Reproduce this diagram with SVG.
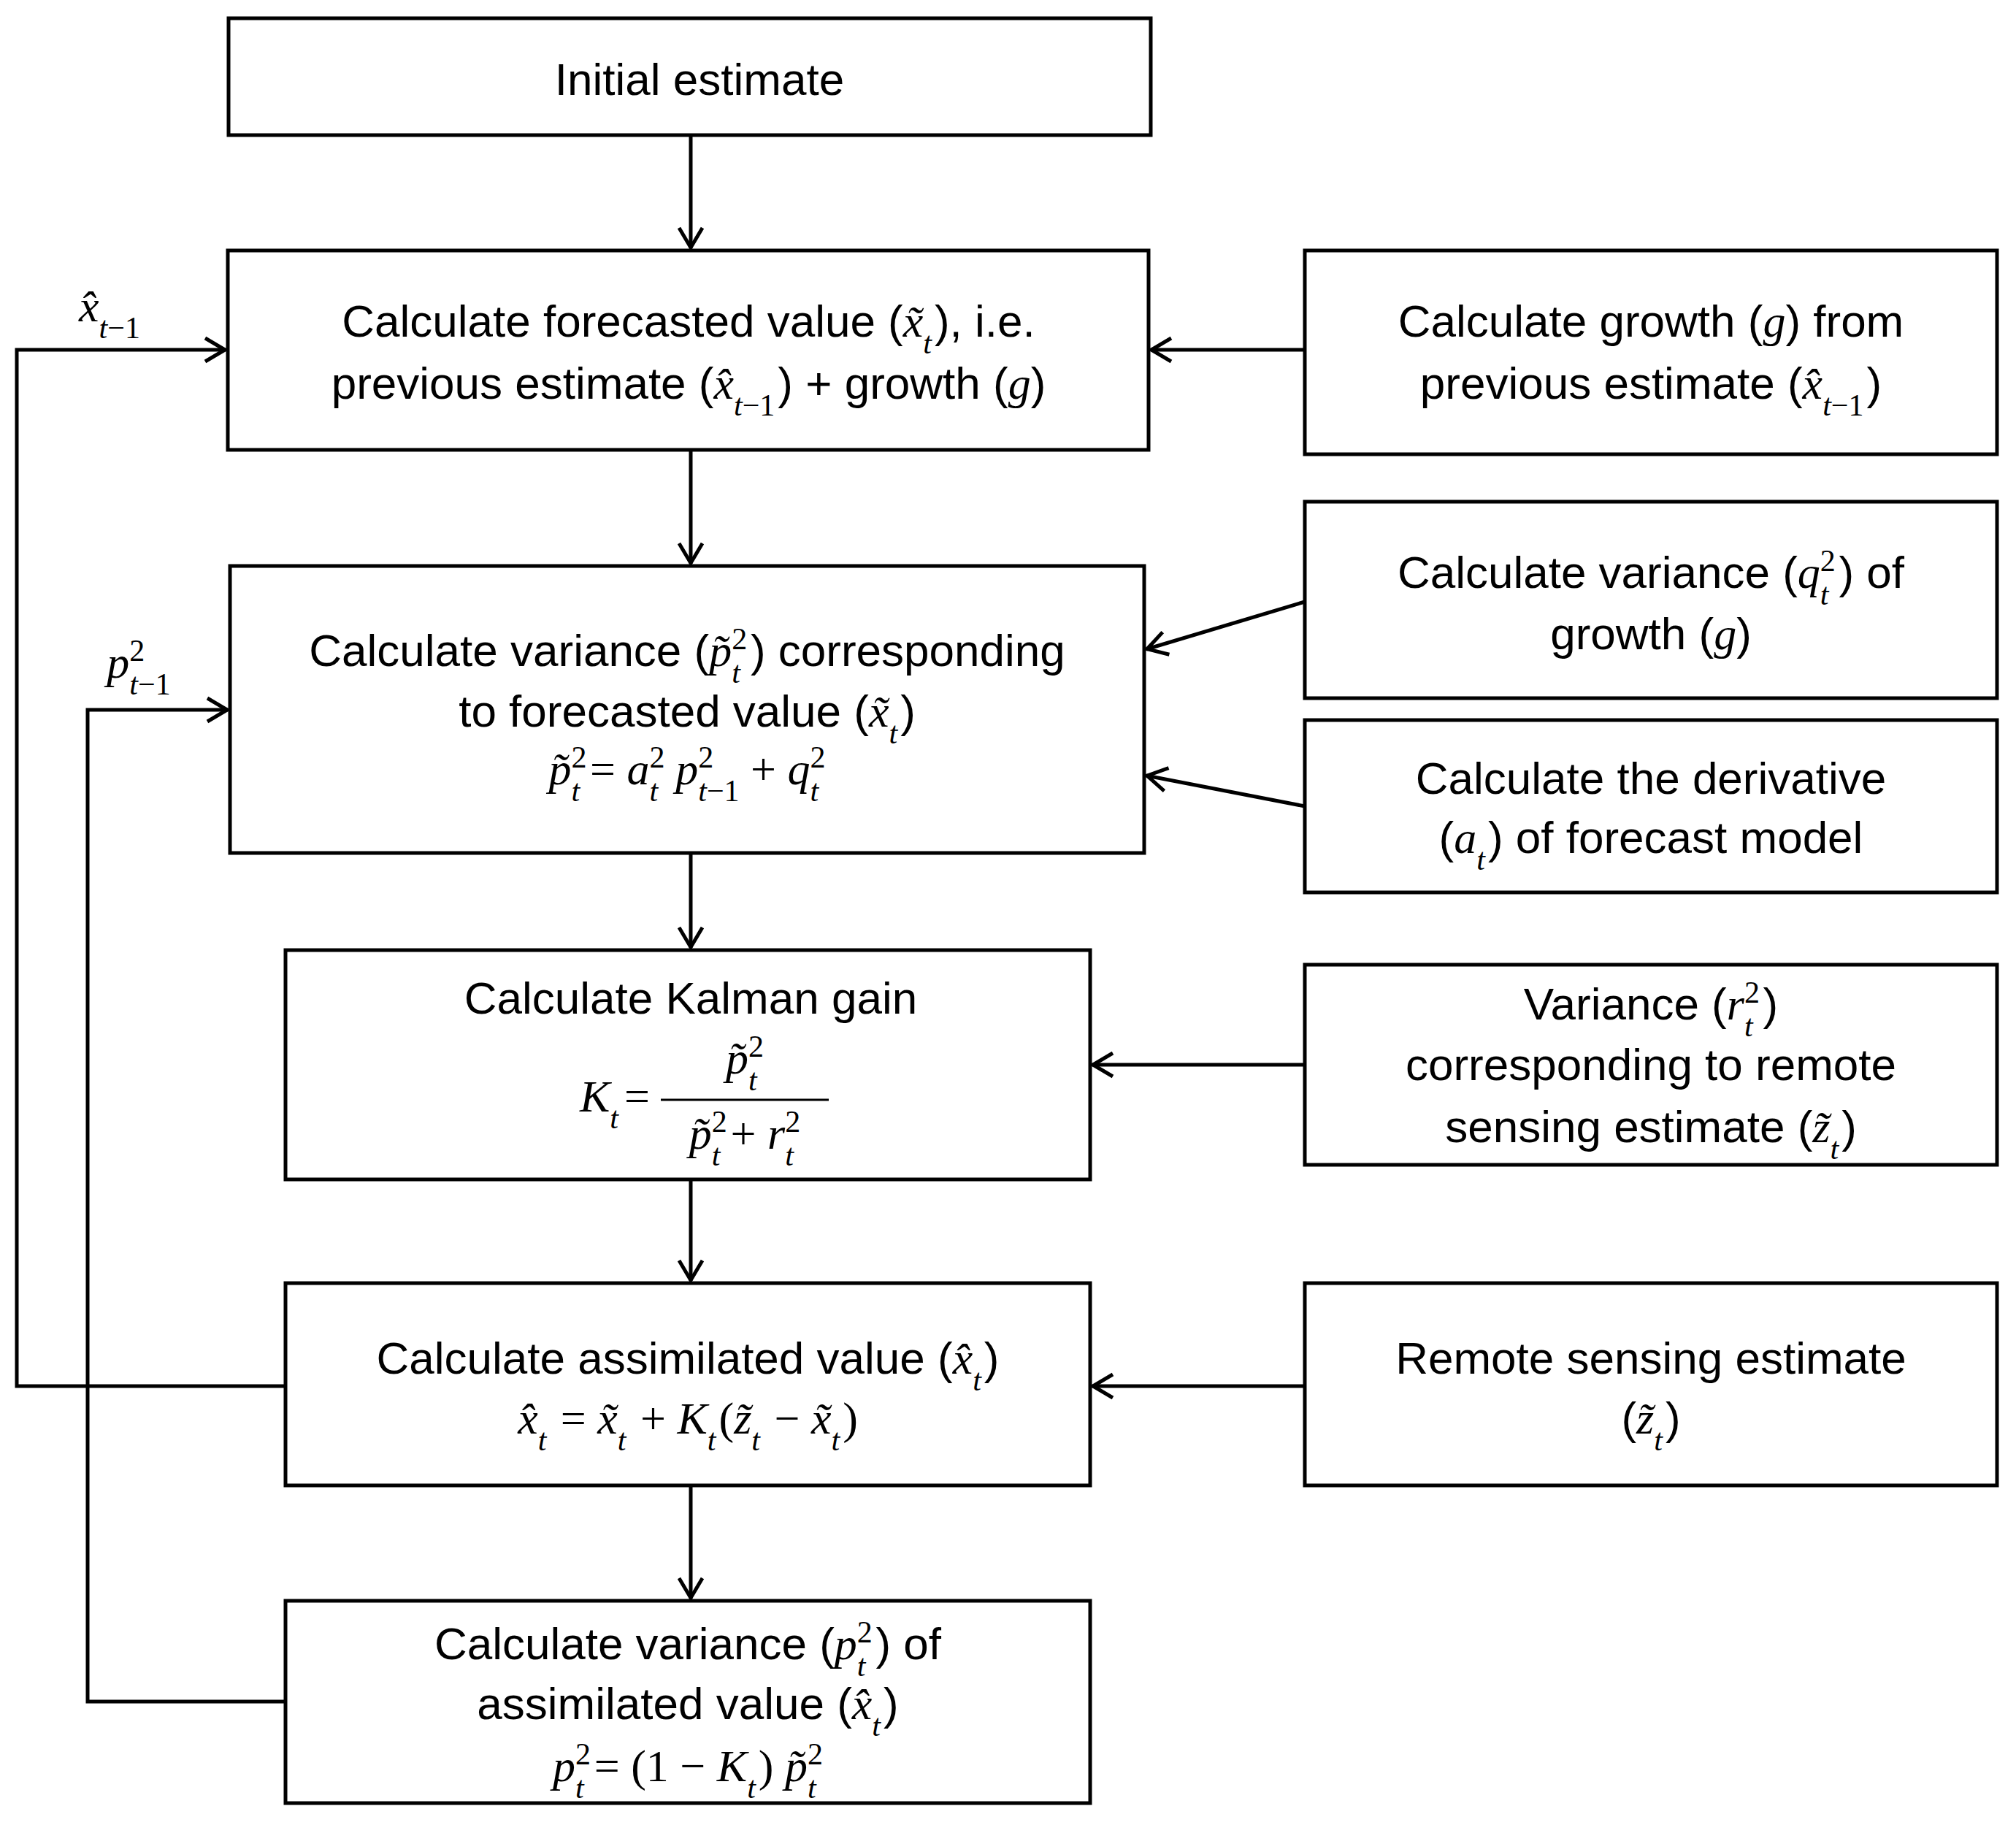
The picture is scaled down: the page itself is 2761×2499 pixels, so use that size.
<svg xmlns="http://www.w3.org/2000/svg" width="2761" height="2499" viewBox="0 0 2761 2499">
<style>
rect{fill:#fff;stroke:#000;stroke-width:5}
.c line,.c polyline{stroke:#000;stroke-width:5;fill:none}
text{font-family:"Liberation Sans",Arial,sans-serif;font-size:62px;text-anchor:middle;fill:#000}
.m{font-family:"Liberation Serif","Times New Roman",serif;font-style:italic}
.r{font-family:"Liberation Serif","Times New Roman",serif;font-style:normal}
.s{font-size:42px}
</style>
<defs>
<marker id="a" markerWidth="40" markerHeight="40" refX="38" refY="20" orient="auto" markerUnits="userSpaceOnUse">
<polyline points="10,4 37,20 10,36" fill="none" stroke="#000" stroke-width="5"/>
</marker>
</defs>
<rect x="0" y="0" width="2761" height="2499" style="stroke:none"/>
<g id="n1"><rect x="313" y="25" width="1263" height="160"/><text x="958" y="130">Initial estimate</text></g>
<g id="n2"><rect x="312" y="343" width="1261" height="273"/>
<text x="943" y="461">Calculate forecasted value (<tspan class="m">x̃</tspan><tspan class="m s" baseline-shift="sub">t</tspan><tspan dx="4">), i.e.</tspan></text>
<text x="943" y="546">previous estimate (<tspan class="m">x̂</tspan><tspan class="m s" baseline-shift="sub">t</tspan><tspan class="r s" baseline-shift="sub">−1</tspan><tspan dx="4">) + growth (</tspan><tspan class="m">g</tspan>)</text></g>
<g id="n3"><rect x="1787" y="343" width="948" height="279"/>
<text x="2261" y="461">Calculate growth (<tspan class="m">g</tspan>) from</text>
<text x="2261" y="546">previous estimate (<tspan class="m">x̂</tspan><tspan class="m s" baseline-shift="sub">t</tspan><tspan class="r s" baseline-shift="sub">−1</tspan><tspan dx="4">)</tspan></text></g>
<g id="n4"><rect x="315" y="775" width="1252" height="393"/>
<text x="941" y="912">Calculate variance (<tspan class="m">p̃</tspan><tspan class="r s" baseline-shift="super">2</tspan><tspan class="m s" dx="-21" baseline-shift="sub">t</tspan><tspan dx="14">) corresponding</tspan></text>
<text x="941" y="995">to forecasted value (<tspan class="m">x̃</tspan><tspan class="m s" baseline-shift="sub">t</tspan><tspan dx="4">)</tspan></text>
<text x="941" y="1074" class="m"><tspan>p̃</tspan><tspan class="r s" baseline-shift="super">2</tspan><tspan class="s" dx="-21" baseline-shift="sub">t</tspan><tspan class="r" dx="14">= </tspan>a<tspan class="r s" baseline-shift="super">2</tspan><tspan class="s" dx="-21" baseline-shift="sub">t</tspan><tspan dx="24">p</tspan><tspan class="r s" baseline-shift="super">2</tspan><tspan class="s" dx="-21" baseline-shift="sub">t</tspan><tspan class="r s" baseline-shift="sub">−1</tspan><tspan class="r"> + </tspan>q<tspan class="r s" baseline-shift="super">2</tspan><tspan class="s" dx="-21" baseline-shift="sub">t</tspan></text></g>
<g id="n5"><rect x="1787" y="687" width="948" height="269"/>
<text x="2261" y="805">Calculate variance (<tspan class="m">q</tspan><tspan class="r s" baseline-shift="super">2</tspan><tspan class="m s" dx="-21" baseline-shift="sub">t</tspan><tspan dx="14">) of</tspan></text>
<text x="2261" y="889">growth (<tspan class="m">g</tspan>)</text></g>
<g id="n6"><rect x="1787" y="986" width="948" height="236"/>
<text x="2261" y="1087">Calculate the derivative</text>
<text x="2261" y="1168">(<tspan class="m">a</tspan><tspan class="m s" baseline-shift="sub">t</tspan><tspan dx="4">) of forecast model</tspan></text></g>
<g id="n7"><rect x="391" y="1301" width="1102" height="314"/>
<text x="946" y="1388">Calculate Kalman gain</text>
<text x="890" y="1522" class="m" style="text-anchor:end">K<tspan class="s" baseline-shift="sub">t</tspan><tspan class="r" dx="8">=</tspan></text>
<line x1="905" y1="1506" x2="1135" y2="1506" stroke="#000" stroke-width="3"/>
<text x="1020" y="1470" class="m">p̃<tspan class="r s" baseline-shift="super">2</tspan><tspan class="s" dx="-21" baseline-shift="sub">t</tspan></text>
<text x="1020" y="1573" class="m">p̃<tspan class="r s" baseline-shift="super">2</tspan><tspan class="s" dx="-21" baseline-shift="sub">t</tspan><tspan class="r" dx="14">+ </tspan>r<tspan class="r s" baseline-shift="super">2</tspan><tspan class="s" dx="-21" baseline-shift="sub">t</tspan></text></g>
<g id="n8"><rect x="1787" y="1321" width="948" height="274"/>
<text x="2261" y="1396">Variance (<tspan class="m">r</tspan><tspan class="r s" baseline-shift="super">2</tspan><tspan class="m s" dx="-21" baseline-shift="sub">t</tspan><tspan dx="14">)</tspan></text>
<text x="2261" y="1479">corresponding to remote</text>
<text x="2261" y="1564">sensing estimate (<tspan class="m">z̃</tspan><tspan class="m s" baseline-shift="sub">t</tspan><tspan dx="4">)</tspan></text></g>
<g id="n9"><rect x="391" y="1757" width="1102" height="277"/>
<text x="942" y="1881">Calculate assimilated value (<tspan class="m">x̂</tspan><tspan class="m s" baseline-shift="sub">t</tspan><tspan dx="4">)</tspan></text>
<text x="942" y="1963" class="m">x̂<tspan class="s" baseline-shift="sub">t</tspan><tspan class="r" dx="4"> = </tspan>x̃<tspan class="s" baseline-shift="sub">t</tspan><tspan class="r" dx="4"> + </tspan>K<tspan class="s" baseline-shift="sub">t</tspan><tspan class="r" dx="4">(</tspan>z̃<tspan class="s" baseline-shift="sub">t</tspan><tspan class="r" dx="4"> − </tspan>x̃<tspan class="s" baseline-shift="sub">t</tspan><tspan class="r" dx="4">)</tspan></text></g>
<g id="n10"><rect x="1787" y="1757" width="948" height="277"/>
<text x="2261" y="1881">Remote sensing estimate</text>
<text x="2261" y="1963">(<tspan class="m">z̃</tspan><tspan class="m s" baseline-shift="sub">t</tspan><tspan dx="4">)</tspan></text></g>
<g id="n11"><rect x="391" y="2192" width="1102" height="277"/>
<text x="942" y="2272">Calculate variance (<tspan class="m">p</tspan><tspan class="r s" baseline-shift="super">2</tspan><tspan class="m s" dx="-21" baseline-shift="sub">t</tspan><tspan dx="14">) of</tspan></text>
<text x="942" y="2354">assimilated value (<tspan class="m">x̂</tspan><tspan class="m s" baseline-shift="sub">t</tspan><tspan dx="4">)</tspan></text>
<text x="942" y="2439" class="m">p<tspan class="r s" baseline-shift="super">2</tspan><tspan class="s" dx="-21" baseline-shift="sub">t</tspan><tspan class="r" dx="14">= (1 − </tspan>K<tspan class="s" baseline-shift="sub">t</tspan><tspan class="r" dx="4">) </tspan>p̃<tspan class="r s" baseline-shift="super">2</tspan><tspan class="s" dx="-21" baseline-shift="sub">t</tspan></text></g>
<g class="c">
<line x1="946" y1="185" x2="946" y2="340" marker-end="url(#a)"/>
<line x1="946" y1="616" x2="946" y2="772" marker-end="url(#a)"/>
<line x1="946" y1="1168" x2="946" y2="1298" marker-end="url(#a)"/>
<line x1="946" y1="1615" x2="946" y2="1754" marker-end="url(#a)"/>
<line x1="946" y1="2034" x2="946" y2="2189" marker-end="url(#a)"/>
<line x1="1787" y1="479" x2="1576" y2="479" marker-end="url(#a)"/>
<line x1="1787" y1="824" x2="1570" y2="889" marker-end="url(#a)"/>
<line x1="1787" y1="1104" x2="1570" y2="1062" marker-end="url(#a)"/>
<line x1="1787" y1="1458" x2="1496" y2="1458" marker-end="url(#a)"/>
<line x1="1787" y1="1898" x2="1496" y2="1898" marker-end="url(#a)"/>
<polyline points="391,1898 23,1898 23,479 309,479" marker-end="url(#a)"/>
<polyline points="391,2330 120,2330 120,972 312,972" marker-end="url(#a)"/>
</g>
<text x="150" y="440" class="m">x̂<tspan class="s" baseline-shift="sub">t</tspan><tspan class="r s" baseline-shift="sub">−1</tspan></text>
<text x="190" y="928" class="m">p<tspan class="r s" baseline-shift="super">2</tspan><tspan class="s" dx="-21" baseline-shift="sub">t</tspan><tspan class="r s" baseline-shift="sub">−1</tspan></text>
</svg>
